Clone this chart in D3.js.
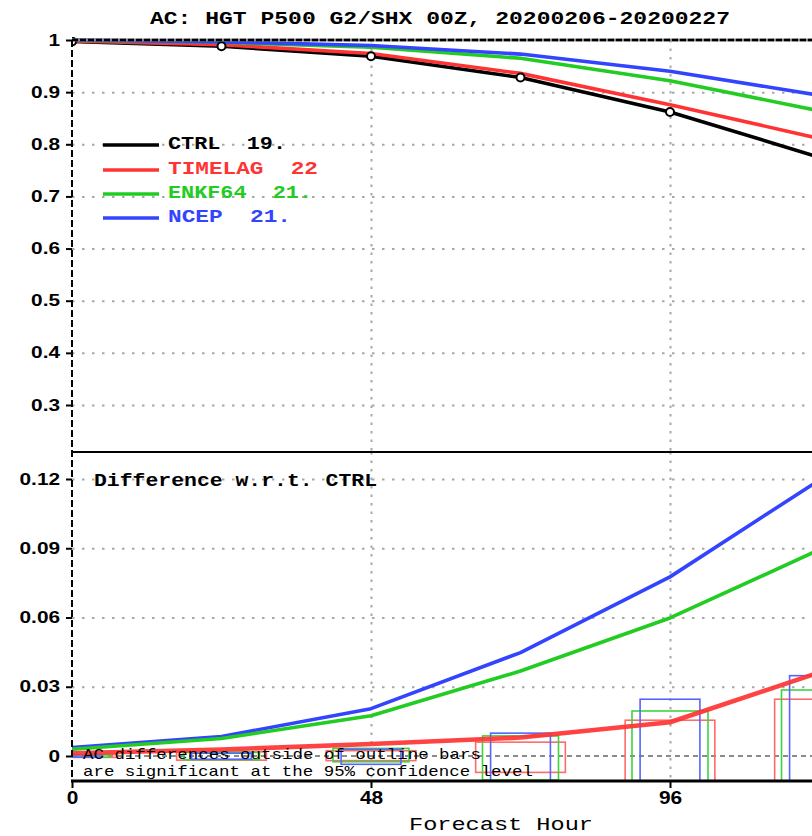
<!DOCTYPE html>
<html>
<head>
<meta charset="utf-8">
<script src="https://cdn.jsdelivr.net/npm/d3@7"></script>
<style>
  html, body { margin: 0; padding: 0; background: #fff; overflow: hidden; }
  svg { display: block; }
  text { white-space: pre; }
</style>
</head>
<body>
<div id="chart"></div>
<script>
// ---------------- data ----------------
const hours = [0, 24, 48, 72, 96, 120];
const seriesNames = ["CTRL", "TIMELAG", "ENKF64", "NCEP"];
const legendLabels = ["CTRL  19.", "TIMELAG  22", "ENKF64  21.", "NCEP  21."];
const seriesColors = ["#000000", "#ff3333", "#22cc22", "#3344ff"];
const barColors = ["#ff6b6b", "#3fd43f", "#5566ff"];

// anomaly correlation (top panel)
const ctrlAC    = [0.997, 0.988, 0.969, 0.928, 0.862, 0.775];
const timelagAC = [0.998, 0.991, 0.974, 0.936, 0.876, 0.811];
const enkf64AC  = [0.9995, 0.9956, 0.986, 0.965, 0.922, 0.864];
const ncepAC    = [1.0, 0.9964, 0.9895, 0.973, 0.940, 0.894];

// difference w.r.t. CTRL (bottom panel)
const timelagDiff = [0.0012, 0.0028, 0.0052, 0.0080, 0.0146, 0.0362];
const enkf64Diff  = [0.0029, 0.0076, 0.0174, 0.0368, 0.0598, 0.0894];
const ncepDiff    = [0.0037, 0.0084, 0.0205, 0.0448, 0.0776, 0.1196];

// 95% confidence outline bars (upper / lower)
const timelagCIhi = [0.0006, 0.0018, 0.0023, 0.0060, 0.0155, 0.0246];
const timelagCIlo = [-0.0006, -0.0018, -0.0020, -0.0071, -0.0155, -0.0246];
const enkf64CIhi  = [0.0005, 0.0016, 0.0033, 0.0087, 0.0195, 0.0286];
const enkf64CIlo  = [-0.0005, -0.0016, -0.0025, -0.0104, -0.0195, -0.0286];
const ncepCIhi    = [0.0005, 0.0012, 0.0029, 0.0099, 0.0246, 0.0348];
const ncepCIlo    = [-0.0005, -0.0014, -0.0036, -0.0115, -0.0246, -0.0348];

// tick values / labels
const xTicks = [0, 48, 96];
const topTicks = [1, 0.9, 0.8, 0.7, 0.6, 0.5, 0.4, 0.3];
const botTicks = [0.12, 0.09, 0.06, 0.03, 0];
const titleText = "AC: HGT P500 G2/SHX 00Z, 20200206-20200227";
const diffTitle = "Difference w.r.t. CTRL";
const noteLines = ["AC differences outside of outline bars", "are significant at the 95% confidence level"];
const xLabel = "Forecast Hour";

// ---------------- layout ----------------
const W = 812, H = 836;
const left = 72, rightEdge = 1000;
const topY0 = 40, midY = 452, botY1 = 781;

const svg = d3.select("#chart").append("svg").attr("width", W).attr("height", H)
  .style("background", "#fff");

const x = d3.scaleLinear().domain([0, 120]).range([left, 819.5]);
const yTop = d3.scaleLinear().domain([0.3, 1]).range([405, topY0]);
const yBot = d3.scaleLinear().domain([0, 0.12]).range([756, 479]);

const defs = svg.append("defs");
defs.append("clipPath").attr("id", "clipTop").append("rect")
  .attr("x", left).attr("y", topY0 - 3).attr("width", rightEdge).attr("height", midY - topY0 + 3);
defs.append("clipPath").attr("id", "clipBot").append("rect")
  .attr("x", left).attr("y", midY).attr("width", rightEdge).attr("height", botY1 - midY);

const monoBold = "'Liberation Mono', 'DejaVu Sans Mono', monospace";

// ---------------- grids ----------------
const gridTop = svg.append("g").attr("transform", `translate(${left},0)`)
  .call(d3.axisRight(yTop).tickValues(topTicks.filter(d => d < 1)).tickSize(rightEdge).tickFormat(""));
const gridBot = svg.append("g").attr("transform", `translate(${left},0)`)
  .call(d3.axisRight(yBot).tickValues(botTicks.filter(d => d > 0)).tickSize(rightEdge).tickFormat(""));
[gridTop, gridBot].forEach(g => {
  g.select(".domain").remove();
  g.selectAll("line").attr("stroke", "#a8a8a8").attr("stroke-width", 2).attr("stroke-dasharray", "2.5,7.5");
});
// vertical grids
const vGridTop = svg.append("g").attr("transform", `translate(0,${topY0})`)
  .call(d3.axisBottom(x).tickValues(xTicks.filter(d => d > 0)).tickSize(midY - topY0).tickFormat(""));
const vGridBot = svg.append("g").attr("transform", `translate(0,${midY})`)
  .call(d3.axisBottom(x).tickValues(xTicks.filter(d => d > 0)).tickSize(botY1 - midY).tickFormat(""));
[vGridTop, vGridBot].forEach(g => {
  g.select(".domain").remove();
  g.selectAll("line").attr("stroke", "#a8a8a8").attr("stroke-width", 2).attr("stroke-dasharray", "2.5,6");
});
// zero line
svg.append("line").attr("x1", left).attr("x2", rightEdge).attr("y1", yBot(0)).attr("y2", yBot(0))
  .attr("stroke", "#666").attr("stroke-width", 1.5).attr("stroke-dasharray", "5,4");

// ---------------- bars ----------------
const barSets = [
  { hi: timelagCIhi, lo: timelagCIlo, half: 7.2, color: barColors[0] },
  { hi: enkf64CIhi, lo: enkf64CIlo, half: 6.1, color: barColors[1] },
  { hi: ncepCIhi, lo: ncepCIlo, half: 4.8, color: barColors[2] }
];
const barsG = svg.append("g").attr("clip-path", "url(#clipBot)");
barSets.forEach(s => {
  barsG.selectAll(null).data(hours).enter().append("rect")
    .attr("x", (h) => x(h - s.half))
    .attr("width", (h) => x(h + s.half) - x(h - s.half))
    .attr("y", (h, i) => yBot(s.hi[i]))
    .attr("height", (h, i) => yBot(s.lo[i]) - yBot(s.hi[i]))
    .attr("fill", "none").attr("stroke", s.color).attr("stroke-width", 1.6);
});

// ---------------- lines ----------------
const lineTop = d3.line().x((d, i) => x(hours[i])).y(d => yTop(d));
const lineBot = d3.line().x((d, i) => x(hours[i])).y(d => yBot(d));

const topG = svg.append("g").attr("clip-path", "url(#clipTop)");
[[ctrlAC, 0], [timelagAC, 1], [enkf64AC, 2], [ncepAC, 3]].forEach(([arr, k]) => {
  topG.append("path").attr("d", lineTop(arr)).attr("fill", "none")
    .attr("stroke", seriesColors[k]).attr("stroke-width", 3.6).attr("stroke-linejoin", "round");
});
topG.selectAll("circle").data(ctrlAC).enter().append("circle")
  .attr("cx", (d, i) => x(hours[i])).attr("cy", d => yTop(d)).attr("r", 4)
  .attr("fill", "#fff").attr("stroke", "#000").attr("stroke-width", 2);

const botG = svg.append("g").attr("clip-path", "url(#clipBot)");
[[ncepDiff, 3, 3.6], [enkf64Diff, 2, 3.6], [timelagDiff, 1, 4.6]].forEach(([arr, k, w]) => {
  botG.append("path").attr("d", lineBot(arr)).attr("fill", "none")
    .attr("stroke", seriesColors[k]).attr("stroke-width", w).attr("stroke-linejoin", "round")
    .attr("stroke-opacity", k === 1 ? 0.92 : 1);
});

// ---------------- frame ----------------
svg.append("line").attr("x1", left).attr("x2", rightEdge).attr("y1", topY0).attr("y2", topY0)
  .attr("stroke", "#888").attr("stroke-width", 3);
svg.append("line").attr("x1", left).attr("x2", rightEdge).attr("y1", topY0).attr("y2", topY0)
  .attr("stroke", "#000").attr("stroke-width", 2.5).attr("stroke-dasharray", "6,2");
svg.append("line").attr("x1", left).attr("x2", rightEdge).attr("y1", midY).attr("y2", midY)
  .attr("stroke", "#000").attr("stroke-width", 2.2);
svg.append("line").attr("x1", left - 1).attr("x2", rightEdge).attr("y1", botY1).attr("y2", botY1)
  .attr("stroke", "#000").attr("stroke-width", 3.2);
svg.append("line").attr("x1", left).attr("x2", left).attr("y1", topY0).attr("y2", botY1)
  .attr("stroke", "#000").attr("stroke-width", 2).attr("stroke-dasharray", "7,3");

// ---------------- axes ----------------
function styleYAxis(g) {
  g.select(".domain").remove();
  g.selectAll(".tick line").attr("stroke", "#000").attr("stroke-width", 2);
  g.selectAll(".tick text")
    .attr("font-family", "'Liberation Sans', Arial, sans-serif")
    .attr("font-weight", "bold").attr("font-size", 16).attr("fill", "#000")
    .each(function () {
      const len = this.getComputedTextLength();
      d3.select(this).attr("textLength", len * 1.3).attr("lengthAdjust", "spacingAndGlyphs");
    });
}
const yAxTop = svg.append("g").attr("transform", `translate(${left},0)`)
  .call(d3.axisLeft(yTop).tickValues(topTicks).tickSize(6).tickPadding(6)
    .tickFormat(d => d === 1 ? "1" : d3.format(".1f")(d)));
styleYAxis(yAxTop);
const yAxBot = svg.append("g").attr("transform", `translate(${left},0)`)
  .call(d3.axisLeft(yBot).tickValues(botTicks).tickSize(6).tickPadding(6)
    .tickFormat(d => d === 0 ? "0" : d3.format(".2f")(d)));
styleYAxis(yAxBot);

const xAx = svg.append("g").attr("transform", `translate(0,${botY1})`)
  .call(d3.axisBottom(x).tickValues(xTicks).tickSize(7).tickPadding(3));
xAx.select(".domain").remove();
xAx.selectAll(".tick line").attr("stroke", "#000").attr("stroke-width", 2);
xAx.selectAll(".tick text")
  .attr("font-family", "'Liberation Sans', Arial, sans-serif")
  .attr("font-weight", "bold").attr("font-size", 19).attr("fill", "#000")
  .each(function () {
    const len = this.getComputedTextLength();
    d3.select(this).attr("textLength", len * 1.1).attr("lengthAdjust", "spacingAndGlyphs");
  });

// ---------------- texts ----------------
function stretchedText(str, x0, yb, width, size, weight, color) {
  return svg.append("text").attr("x", x0).attr("y", yb)
    .attr("xml:space", "preserve")
    .attr("font-family", monoBold).attr("font-size", size).attr("font-weight", weight)
    .attr("fill", color || "#000")
    .attr("textLength", width).attr("lengthAdjust", "spacingAndGlyphs")
    .text(str);
}
stretchedText(titleText, 150, 24, 580, 18, "bold");

// legend
const legendY = [145, 170, 194, 218];
const legendW = [118, 150, 144, 123];
seriesNames.forEach((n, k) => {
  svg.append("line").attr("x1", 103).attr("x2", 159)
    .attr("y1", legendY[k]).attr("y2", legendY[k])
    .attr("stroke", seriesColors[k]).attr("stroke-width", 3.4);
  stretchedText(legendLabels[k], 168, legendY[k] + 3.5, legendW[k], 18, "bold", seriesColors[k]);
});

stretchedText(diffTitle, 94, 486, 283, 19, "bold");
stretchedText(noteLines[0], 83, 759, 398, 15, "normal");
stretchedText(noteLines[1], 83, 776, 450, 15, "normal");
stretchedText(xLabel, 409, 830, 184, 18, "normal");
</script>
</body>
</html>
